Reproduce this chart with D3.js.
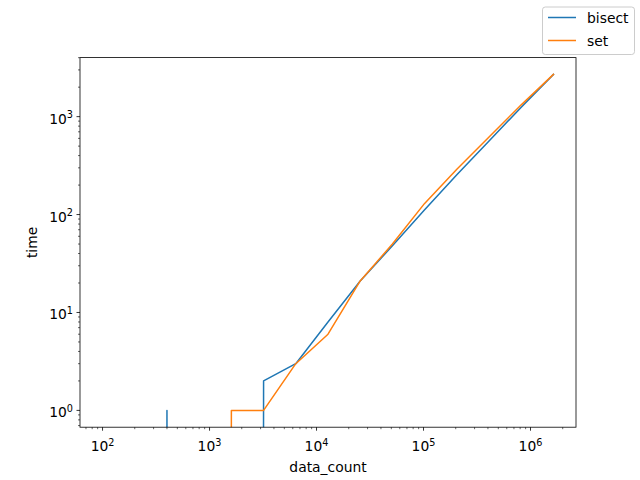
<!DOCTYPE html>
<html>
<head>
<meta charset="utf-8">
<script src="https://cdn.jsdelivr.net/npm/d3@7"></script>
<style>
  body { margin: 0; background: #fff; }
  svg { display: block; font-family: "DejaVu Sans", sans-serif; }
</style>
</head>
<body>
<svg id="chart" width="640" height="480"></svg>
<script>
// ---- data ----
const dataCount = [100, 200, 400, 800, 1600, 3200, 6400, 12800, 25600, 51200, 102400, 204800, 409600, 819200, 1638400];
const bisectTime = [0, 0, 1, 0, 0, 2, 3, 8, 21, 48, 112, 255, 565, 1250, 2700];
const setTime    = [0, 0, 0, 0, 1, 1, 3, 6, 21, 50, 130, 290, 620, 1320, 2700];
const seriesNames = ["bisect", "set"];
const seriesColors = ["#1f77b4", "#ff7f0e"];
const xTickExps = [2, 3, 4, 5, 6];
const yTickExps = [0, 1, 2, 3];

// ---- layout ----
const svg = d3.select("#chart");
const L = 80, R = 576, T = 57.6, B = 427.2;
const fs = 13.89;

svg.append("rect").attr("width", 640).attr("height", 480).attr("fill", "#fff");

// domains with 5% log margins like matplotlib
const lx0 = Math.log10(d3.min(dataCount)), lx1 = Math.log10(d3.max(dataCount));
const mx = (lx1 - lx0) * 0.05;
const allPos = bisectTime.concat(setTime).filter(v => v > 0);
const ly0 = Math.log10(d3.min(allPos)), ly1 = Math.log10(d3.max(allPos));
const my = (ly1 - ly0) * 0.05;

const x = d3.scaleLog().domain([Math.pow(10, lx0 - mx), Math.pow(10, lx1 + mx)]).range([L, R]);
const y = d3.scaleLog().domain([Math.pow(10, ly0 - my), Math.pow(10, ly1 + my)]).range([B, T]);

svg.append("defs").append("clipPath").attr("id", "clip")
  .append("rect").attr("x", L).attr("y", T).attr("width", R - L).attr("height", B - T);

// lines
const series = [bisectTime, setTime];
const line = d3.line()
  .x((d, i) => x(dataCount[i]))
  .y(d => y(d > 0 ? d : 1e-300));

const g = svg.append("g").attr("clip-path", "url(#clip)");
series.forEach((s, k) => {
  g.append("path").datum(s)
    .attr("d", line)
    .attr("fill", "none")
    .attr("stroke", seriesColors[k])
    .attr("stroke-width", 1.5)
    .attr("stroke-linejoin", "round")
    .attr("stroke-linecap", "square");
});

// ticks
function minorTicks(scale) {
  const [a, b] = scale.domain();
  const out = [];
  for (let e = Math.floor(Math.log10(a)); e <= Math.ceil(Math.log10(b)); e++) {
    for (let m = 2; m <= 9; m++) {
      const v = m * Math.pow(10, e);
      if (v >= a && v <= b) out.push(v);
    }
  }
  return out;
}

const axG = svg.append("g");
// x axis ticks
minorTicks(x).forEach(v => {
  axG.append("line").attr("x1", x(v)).attr("x2", x(v)).attr("y1", B).attr("y2", B + 2)
    .attr("stroke", "#000").attr("stroke-width", 0.6);
});
xTickExps.forEach(e => {
  const px = x(Math.pow(10, e));
  axG.append("line").attr("x1", px).attr("x2", px).attr("y1", B).attr("y2", B + 3.5)
    .attr("stroke", "#000").attr("stroke-width", 0.8);
  const t = axG.append("text").attr("x", px).attr("y", 451).attr("text-anchor", "middle")
    .attr("font-size", fs).attr("fill", "#000");
  t.append("tspan").text("10");
  t.append("tspan").attr("font-size", 9.7).attr("dy", -5.5).text(e);
});
// y axis ticks
minorTicks(y).forEach(v => {
  axG.append("line").attr("x1", L).attr("x2", L - 2).attr("y1", y(v)).attr("y2", y(v))
    .attr("stroke", "#000").attr("stroke-width", 0.6);
});
yTickExps.forEach(e => {
  const py = y(Math.pow(10, e));
  axG.append("line").attr("x1", L).attr("x2", L - 3.5).attr("y1", py).attr("y2", py)
    .attr("stroke", "#000").attr("stroke-width", 0.8);
  const t = axG.append("text").attr("x", L - 7).attr("y", py + 7).attr("text-anchor", "end")
    .attr("font-size", fs).attr("fill", "#000");
  t.append("tspan").text("10");
  t.append("tspan").attr("font-size", 9.7).attr("dy", -5.5).text(e);
});

// frame
svg.append("rect").attr("x", L).attr("y", T).attr("width", R - L).attr("height", B - T)
  .attr("fill", "none").attr("stroke", "#000").attr("stroke-width", 0.8);

// axis labels
svg.append("text").attr("x", (L + R) / 2).attr("y", 472).attr("text-anchor", "middle")
  .attr("font-size", fs).text("data_count");
svg.append("text").attr("transform", `translate(37,${(T + B) / 2}) rotate(-90)`)
  .attr("text-anchor", "middle").attr("font-size", fs).text("time");

// legend (figure-level, upper right)
const lg = svg.append("g");
lg.append("rect").attr("x", 542.5).attr("y", 7).attr("width", 92).attr("height", 47.5)
  .attr("rx", 2.8).attr("fill", "#fff").attr("fill-opacity", 0.8)
  .attr("stroke", "#cccccc").attr("stroke-width", 1);
seriesNames.forEach((n, k) => {
  const cy = 17.5 + k * 23;
  lg.append("line").attr("x1", 548).attr("x2", 576).attr("y1", cy).attr("y2", cy)
    .attr("stroke", seriesColors[k]).attr("stroke-width", 1.5);
  lg.append("text").attr("x", 587).attr("y", cy + 5).attr("font-size", fs).text(n);
});
</script>
</body>
</html>
